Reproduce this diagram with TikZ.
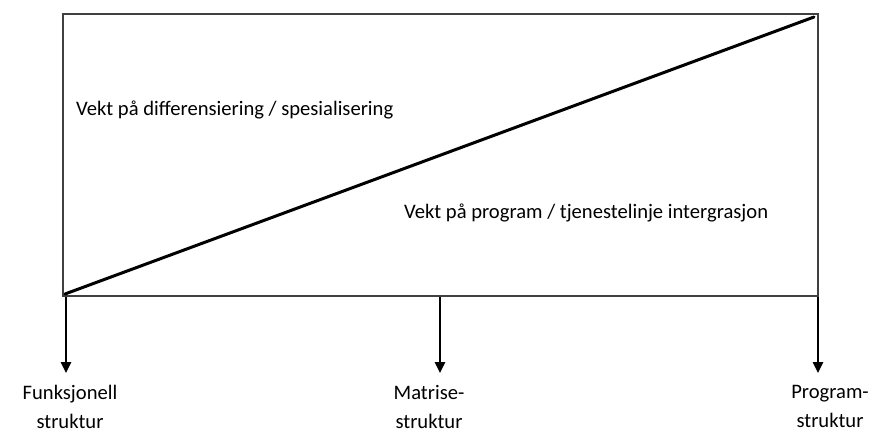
\documentclass[tikz,border=0pt]{standalone}
\usepackage{fontspec}
\setmainfont{Carlito}
\usetikzlibrary{positioning,arrows.meta}

\tikzset{
	frame/.style={draw=black!75,line width=1.5pt},
	slope/.style={draw=black,line width=3pt,line cap=round},
	down/.style={-{Triangle[length=11pt,width=10pt]},draw=black,line width=2.5pt},
	txt/.style={font=\fontsize{20.6}{29}\selectfont,inner sep=0pt},
	under/.style={txt,align=center,anchor=north}
}

\begin{document}
\begin{tikzpicture}[x=1pt,y=-1pt]
	\useasboundingbox (0,0) rectangle (874,432);
	\coordinate (tl) at (63,14);
	\coordinate (br) at (818,296);
	\draw [frame] (tl) rectangle (br);
	\coordinate (start) at (65,294);
	\coordinate (end) at (814,17);
	\draw [slope] (start) -- (end);
	\node [txt,anchor=west] (diff) at (76,110) {Vekt på differensiering / spesialisering};
	\node [txt,anchor=west] (prog) at (404,213) {Vekt på program / tjenestelinje intergrasjon};
	% feet of the arrows
	\coordinate (f1) at (66,297);
	\coordinate (f2) at (440,297);
	\coordinate (f3) at (818,297);
	\node [under] (funk) at (70,385) {Funksjonell\\struktur};
	\node [under] (matr) at (429,385) {Matrise-\\struktur};
	\node [under] (progs) at (830,385) {Program-\\struktur};
	\draw [down] (f1) -- ([yshift=12pt]f1 |- funk.north);
	\draw [down] (f2) -- ([yshift=12pt]f2 |- matr.north);
	\draw [down] (f3) -- ([yshift=12pt]f3 |- progs.north);
\end{tikzpicture}
\end{document}
